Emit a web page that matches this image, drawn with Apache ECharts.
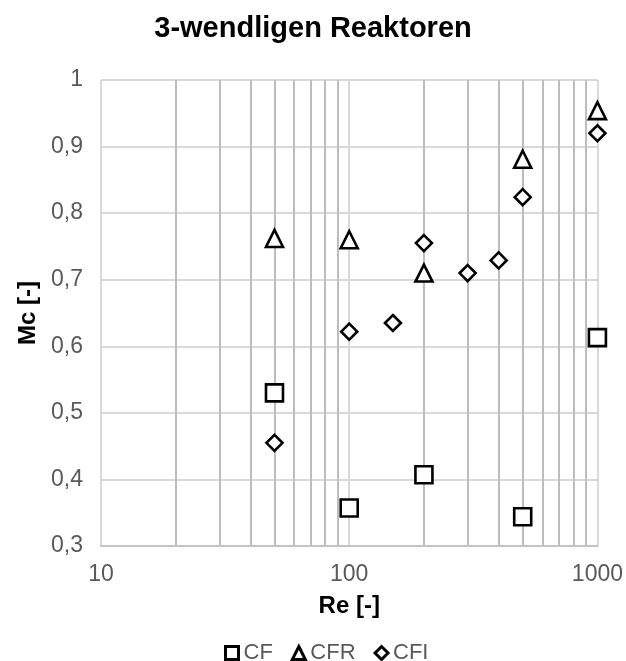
<!DOCTYPE html>
<html><head><meta charset="utf-8">
<script src="https://cdn.jsdelivr.net/npm/echarts@6/dist/echarts.min.js"></script>
<style>html,body{margin:0;padding:0;background:#fff}#c{width:626px;height:661px}</style>
</head><body><div id="c"></div>
<script>
const cfRe = [50, 100, 200, 500, 1000];
const cfMc = [0.53, 0.357, 0.407, 0.344, 0.613];
const cfrRe = [50, 100, 200, 500, 1000];
const cfrMc = [0.762, 0.76, 0.71, 0.881, 0.954];
const cfiRe = [50, 100, 150, 200, 300, 400, 500, 1000];
const cfiMc = [0.455, 0.622, 0.635, 0.755, 0.71, 0.729, 0.824, 0.92];
const xTickLabels = [10, 100, 1000];
const xGridValues = [10,20,30,40,50,60,70,80,90,100,200,300,400,500,600,700,800,900,1000];

const pairs = (xs, ys) => xs.map((x, i) => [x, ys[i]]);
const font = 'Liberation Sans, Arial, sans-serif';
const light = '#d9d9d9', dark = '#bdbdbd';
const chart = echarts.init(document.getElementById('c'));
const mk = (name, data, symbol, size) => ({
  name, type: 'scatter', data, symbol, symbolSize: size,
  itemStyle: {color: '#fff', borderColor: '#000', borderWidth: 2.6, opacity: 1}, z: 5
});
chart.setOption({
  animation: false,
  title: {text: '3-wendligen Reaktoren', left: 'center', top: 9,
    textStyle: {fontFamily: font, fontSize: 29, fontWeight: 'bold', color: '#000'}},
  grid: {left: 101, right: 26, top: 80, bottom: 115},
  xAxis: {
    type: 'log', min: 10, max: 1000, logBase: 10,
    name: 'Re [-]', nameLocation: 'middle', nameGap: 48,
    nameTextStyle: {fontFamily: font, fontSize: 24, fontWeight: 'bold', color: '#000'},
    axisLine: {show: true, lineStyle: {color: '#c4c4c4', width: 2}},
    axisTick: {show: false, customValues: xGridValues},
    axisLabel: {customValues: xTickLabels, fontFamily: font, fontSize: 23, color: '#595959', margin: 17,
      formatter: v => String(Math.round(v))},
    splitLine: {show: true, lineStyle: {color: [light, dark, dark, dark, dark, dark, dark, dark, dark], width: 2}}
  },
  yAxis: {
    type: 'value', min: 0.3, max: 1, interval: 0.1,
    name: 'Mc [-]', nameLocation: 'middle', nameGap: 61, nameRotate: 90,
    nameTextStyle: {fontFamily: font, fontSize: 24, fontWeight: 'bold', color: '#000'},
    axisLine: {show: false}, axisTick: {show: false},
    axisLabel: {fontFamily: font, fontSize: 23, color: '#595959', margin: 18,
      formatter: v => String(Math.round(v * 10) / 10).replace('.', ',')},
    splitLine: {show: true, lineStyle: {color: light, width: 2}}
  },
  legend: {
    top: 637, left: 219, itemWidth: 13, itemHeight: 13, itemGap: 18,
    textStyle: {fontFamily: font, fontSize: 22, color: '#595959'},
    itemStyle: {borderWidth: 3, borderColor: '#000', color: '#fff', opacity: 1},
    data: [{name: 'CF', icon: 'rect'}, {name: 'CFR', icon: 'triangle'}, {name: 'CFI', icon: 'diamond'}]
  },
  series: [
    mk('CF', pairs(cfRe, cfMc), 'rect', 17),
    mk('CFR', pairs(cfrRe, cfrMc), 'triangle', 17),
    mk('CFI', pairs(cfiRe, cfiMc), 'diamond', 16)
  ]
});
</script></body></html>
